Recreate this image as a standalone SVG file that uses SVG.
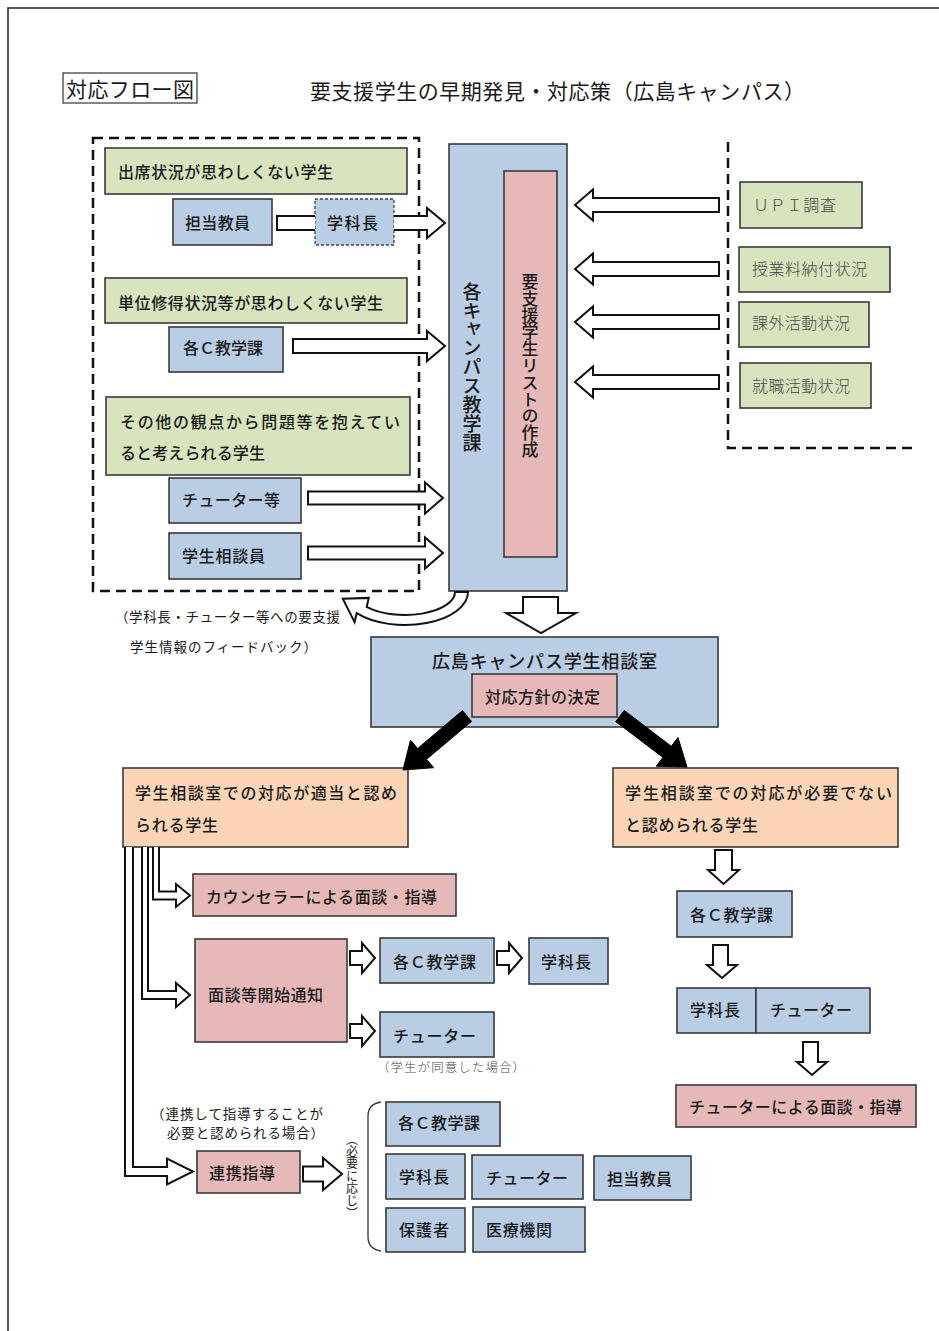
<svg xmlns="http://www.w3.org/2000/svg" width="939" height="1331" viewBox="0 0 939 1331">
<style>
.bg{fill:#fff}
.frame{fill:none;stroke:#222;stroke-width:1.5}
.box{stroke:#3a3a3a;stroke-width:1.6}
.bl{fill:#b9cde5}
.gr{fill:#d7e4bd}
.pk{fill:#e6b9b8}
.or{fill:#fbd5b5}
.dsh{fill:none;stroke:#111;stroke-width:2.5;stroke-dasharray:10 6}
.t{font-family:"Noto Sans CJK JP","Noto Sans CJK SC",sans-serif;font-size:16px;fill:#1a1a1a;font-weight:500}
.m{font-family:"Noto Sans CJK JP","Noto Sans CJK SC",sans-serif;font-size:16px;fill:#4a4a4a;font-weight:300}
.s{font-size:13.5px;font-weight:400}
.v{writing-mode:vertical-rl}
.arr{fill:#fff;stroke:#111;stroke-width:2;stroke-linejoin:miter}
.blk{fill:#000;stroke:#000;stroke-width:1}
</style>
<rect class="bg" x="0" y="0" width="939" height="1331"/>
<path class="frame" d="M8,1331 V8 H939"/>

<g id="title">
<rect x="63" y="73" width="134" height="30" fill="#fff" stroke="#333" stroke-width="1.2"/>
<text class="t" x="66" y="96.5" style="font-size:21px;font-weight:400" textLength="128" lengthAdjust="spacing">対応フロー図</text>
<text class="t" x="310" y="98.5" style="font-size:21px;font-weight:400" textLength="495" lengthAdjust="spacing">要支援学生の早期発見・対応策（広島キャンパス）</text>
</g>

<g id="source-groups">
<rect id="left-area" class="dsh" x="93" y="138" width="326" height="453"/>
<path id="right-area" class="dsh" d="M728,142 V448 H915"/>
</g>

<g id="n-attendance">
<rect class="box gr" x="105" y="148" width="302" height="46"/>
<text class="t" x="118" y="177.6" textLength="215" lengthAdjust="spacing">出席状況が思わしくない学生</text>
</g>
<g id="n-tanto1">
<rect class="box bl" x="173" y="199" width="99" height="46"/>
<text class="t" x="185" y="228.6" textLength="65" lengthAdjust="spacing">担当教員</text>
</g>
<g id="n-gakkacho1">
<rect class="bl" x="315" y="199" width="79" height="46" stroke="#444" stroke-width="1.3" stroke-dasharray="3 2"/>
<text class="t" x="327" y="228.6" textLength="51" lengthAdjust="spacing">学科長</text>
</g>
<g id="n-credits">
<rect class="box gr" x="105" y="278" width="302" height="45"/>
<text class="t" x="118" y="308.6" textLength="265" lengthAdjust="spacing">単位修得状況等が思わしくない学生</text>
</g>
<g id="n-kyogaku1">
<rect class="box bl" x="169" y="327" width="114" height="45"/>
<text class="t" x="183" y="353.6" textLength="80" lengthAdjust="spacing">各Ｃ教学課</text>
</g>
<g id="n-other">
<rect class="box gr" x="106" y="397" width="304" height="78"/>
<text class="t" x="120" y="427.6" textLength="280" lengthAdjust="spacing">その他の観点から問題等を抱えてい</text>
<text class="t" x="120" y="458.6" textLength="145" lengthAdjust="spacing">ると考えられる学生</text>
</g>
<g id="n-tutor1">
<rect class="box bl" x="169" y="478" width="132" height="45"/>
<text class="t" x="182" y="505.6" textLength="98" lengthAdjust="spacing">チューター等</text>
</g>
<g id="n-counselor-staff">
<rect class="box bl" x="169" y="533" width="132" height="46"/>
<text class="t" x="182" y="562" textLength="83" lengthAdjust="spacing">学生相談員</text>
</g>

<g id="n-campus">
<rect class="box bl" x="449" y="144" width="118" height="447"/>
<text class="t v" x="472" y="282" style="font-size:19px" textLength="170" lengthAdjust="spacing">各キャンパス教学課</text>
</g>
<g id="n-list">
<rect class="box pk" x="504" y="171" width="53" height="386"/>
<text class="t v" x="530" y="273" style="font-size:17px" textLength="185" lengthAdjust="spacing">要支援学生リストの作成</text>
</g>

<g id="n-upi">
<rect class="box gr" x="740" y="182" width="122" height="46"/>
<text class="m" x="753" y="210.6" textLength="83" lengthAdjust="spacing">ＵＰＩ調査</text>
</g>
<g id="n-fee">
<rect class="box gr" x="739" y="247" width="151" height="45"/>
<text class="m" x="752" y="274.6" textLength="115" lengthAdjust="spacing">授業料納付状況</text>
</g>
<g id="n-extra">
<rect class="box gr" x="739" y="302" width="130" height="45"/>
<text class="m" x="752" y="328.6" textLength="98" lengthAdjust="spacing">課外活動状況</text>
</g>
<g id="n-job">
<rect class="box gr" x="740" y="363" width="131" height="45"/>
<text class="m" x="752" y="391.6" textLength="98" lengthAdjust="spacing">就職活動状況</text>
</g>

<g id="feedback-label">
<text class="t s" x="115" y="621.7" textLength="225" lengthAdjust="spacing">（学科長・チューター等への要支援</text>
<text class="t s" x="130" y="651.7" textLength="187" lengthAdjust="spacing">学生情報のフィードバック）</text>
</g>

<g id="n-soudan">
<rect class="box bl" x="371" y="637" width="347" height="90"/>
<text class="t" x="432" y="668.3" style="font-size:18px" textLength="225" lengthAdjust="spacing">広島キャンパス学生相談室</text>
</g>
<g id="n-policy">
<rect class="box pk" x="472" y="674" width="145" height="43"/>
<text class="t" x="485" y="702.6" textLength="115" lengthAdjust="spacing">対応方針の決定</text>
</g>

<g id="n-appropriate">
<rect class="box or" x="123" y="768" width="285" height="79"/>
<text class="t" x="135" y="798.6" textLength="262" lengthAdjust="spacing">学生相談室での対応が適当と認め</text>
<text class="t" x="135" y="830.6" textLength="83" lengthAdjust="spacing">られる学生</text>
</g>
<g id="n-notneeded">
<rect class="box or" x="613" y="768" width="285" height="79"/>
<text class="t" x="625" y="798.6" textLength="267" lengthAdjust="spacing">学生相談室での対応が必要でない</text>
<text class="t" x="625" y="830.6" textLength="133" lengthAdjust="spacing">と認められる学生</text>
</g>

<g id="n-counseling">
<rect class="box pk" x="193" y="874" width="263" height="42"/>
<text class="t" x="206" y="902.6" textLength="231" lengthAdjust="spacing">カウンセラーによる面談・指導</text>
</g>
<g id="n-notice">
<rect class="box pk" x="195" y="939" width="152" height="103"/>
<text class="t" x="208" y="1000.6" textLength="115" lengthAdjust="spacing">面談等開始通知</text>
</g>
<g id="n-kyogaku2">
<rect class="box bl" x="380" y="938" width="114" height="45"/>
<text class="t" x="393" y="967.6" textLength="83" lengthAdjust="spacing">各Ｃ教学課</text>
</g>
<g id="n-gakkacho2">
<rect class="box bl" x="529" y="938" width="79" height="46"/>
<text class="t" x="541" y="967.6" textLength="50" lengthAdjust="spacing">学科長</text>
</g>
<g id="n-tutor2">
<rect class="box bl" x="380" y="1012" width="114" height="45"/>
<text class="t" x="393" y="1041.6" textLength="83" lengthAdjust="spacing">チューター</text>
<text class="m" x="377" y="1072.4" style="font-size:12.5px" textLength="148" lengthAdjust="spacing">（学生が同意した場合）</text>
</g>

<g id="n-kyogaku3">
<rect class="box bl" x="677" y="891" width="115" height="46"/>
<text class="t" x="690" y="920.6" textLength="83" lengthAdjust="spacing">各Ｃ教学課</text>
</g>
<g id="n-gakkacho3">
<rect class="box bl" x="677" y="988" width="79" height="45"/>
<text class="t" x="690" y="1015.6" textLength="50" lengthAdjust="spacing">学科長</text>
</g>
<g id="n-tutor3">
<rect class="box bl" x="756" y="988" width="114" height="45"/>
<text class="t" x="770" y="1015.6" textLength="82" lengthAdjust="spacing">チューター</text>
</g>
<g id="n-tutor-interview">
<rect class="box pk" x="676" y="1085" width="240" height="42"/>
<text class="t" x="689" y="1112.6" textLength="213" lengthAdjust="spacing">チューターによる面談・指導</text>
</g>

<g id="cooperation-label">
<text class="t s" x="151" y="1119" textLength="172" lengthAdjust="spacing">（連携して指導することが</text>
<text class="t s" x="167" y="1138" textLength="157" lengthAdjust="spacing">必要と認められる場合）</text>
</g>
<g id="n-renkei">
<rect class="box pk" x="197" y="1151" width="103" height="42"/>
<text class="t" x="209" y="1178.6" textLength="66" lengthAdjust="spacing">連携指導</text>
</g>
<g id="as-needed">
<text class="t v" x="352" y="1133" style="font-size:12px;font-weight:400" textLength="86" lengthAdjust="spacing">（必要に応じ）</text>
<path d="M381,1102 Q368,1104 368,1116 V1237 Q368,1249 381,1251" fill="none" stroke="#333" stroke-width="1.3"/>
</g>
<g id="n-kyogaku4">
<rect class="box bl" x="386" y="1102" width="114" height="44"/>
<text class="t" x="398" y="1128.6" textLength="82" lengthAdjust="spacing">各Ｃ教学課</text>
</g>
<g id="n-gakkacho4">
<rect class="box bl" x="386" y="1154" width="79" height="45"/>
<text class="t" x="399" y="1182.6" textLength="50" lengthAdjust="spacing">学科長</text>
</g>
<g id="n-tutor4">
<rect class="box bl" x="472" y="1155" width="111" height="44"/>
<text class="t" x="486" y="1183.6" textLength="82" lengthAdjust="spacing">チューター</text>
</g>
<g id="n-tanto4">
<rect class="box bl" x="594" y="1156" width="97" height="44"/>
<text class="t" x="607" y="1184.6" textLength="65" lengthAdjust="spacing">担当教員</text>
</g>
<g id="n-parents">
<rect class="box bl" x="386" y="1208" width="79" height="44"/>
<text class="t" x="399" y="1235.6" textLength="50" lengthAdjust="spacing">保護者</text>
</g>
<g id="n-medical">
<rect class="box bl" x="473" y="1207" width="112" height="45"/>
<text class="t" x="486" y="1235.6" textLength="66" lengthAdjust="spacing">医療機関</text>
</g>

<g id="connectors">
<path class="arr" d="M315,216 H277 V230 H315"/>
<path class="arr" d="M394,216 H427 V208 L445,223 L427,238 V230 H394"/>
<polygon class="arr" points="293,339 427,339 427,331 445,346 427,361 427,353 293,353"/>
<polygon class="arr" points="308,491.5 425,491.5 425,482.5 443,498 425,513.5 425,504.5 308,504.5"/>
<polygon class="arr" points="308,546.5 425,546.5 425,537.5 443,553 425,568.5 425,559.5 308,559.5"/>
<polygon class="arr" points="719,198 593,198 593,189.5 575,205 593,220.5 593,212 719,212"/>
<polygon class="arr" points="719,262 593,262 593,253.5 575,269 593,284.5 593,276 719,276"/>
<polygon class="arr" points="719,315 593,315 593,306.5 575,322 593,337.5 593,329 719,329"/>
<polygon class="arr" points="719,375 593,375 593,366.5 575,382 593,397.5 593,389 719,389"/>
<path class="arr" d="M468,592 A63 33 0 0 1 356.7,613.2 L354.6,622.1 L342.8,598.8 L368.8,597.9 L366.7,606.8 A50 23 0 0 0 455,592 Z"/>
<polygon class="arr" points="523,597 558,597 558,613 576,613 541,633 506,613 523,613"/>
<polygon class="blk" points="462.5,710.6 417.6,748.5 410.5,740.1 403,770 433.7,767.7 426.6,759.3 471.5,721.4"/>
<polygon class="blk" points="624.2,710.4 671.3,746.3 678,737.5 687,767 656.2,766.2 662.9,757.4 615.8,721.6"/>
<path class="arr" d="M125,847 V1176 H167 V1184.5 L193,1171.5 L167,1158.5 V1167 H133 V847"/>
<path class="arr" d="M142,847 V999 H176 V1007 L190,995 L176,983 V991 H148 V847"/>
<path class="arr" d="M153,847 V899.5 H176 V907 L190,895.5 L176,884 V891.5 H159 V847"/>
<polygon class="arr" points="350,951 362,951 362,943 375,958 362,973 362,965 350,965"/>
<polygon class="arr" points="350,1024 362,1024 362,1016 375,1031 362,1046 362,1038 350,1038"/>
<polygon class="arr" points="497,951 509,951 509,943 522,958 509,973 509,965 497,965"/>
<polygon class="arr" points="303,1166.5 323,1166.5 323,1158 342,1174 323,1190 323,1181.5 303,1181.5"/>
<polygon class="arr" points="715,850 732,850 732,870 739,870 723.5,884 708,870 715,870"/>
<polygon class="arr" points="713,945 728,945 728,965 737,965 722,978 707,965 713,965"/>
<polygon class="arr" points="803,1042 818,1042 818,1062 827,1062 812,1075 797,1062 803,1062"/>
</g>
</svg>
